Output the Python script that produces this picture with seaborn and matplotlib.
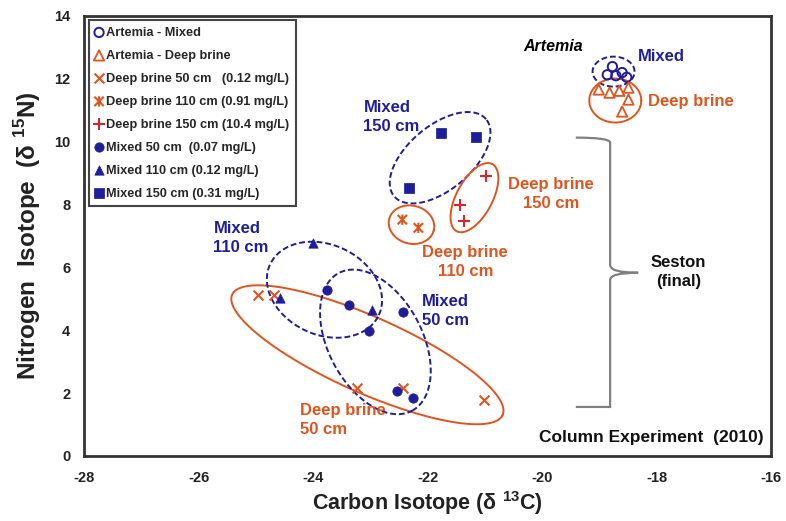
import numpy as np
import seaborn as sns
import matplotlib.pyplot as plt
from matplotlib.path import Path
from matplotlib.patches import PathPatch

# data (carbon d13C, nitrogen d15N)
art_mixed_x = [-18.77, -18.86, -18.71, -18.60, -18.52]
art_mixed_y = [12.39, 12.13, 12.10, 12.20, 12.05]
art_deep_x = [-19.01, -18.82, -18.65, -18.49, -18.49, -18.60]
art_deep_y = [11.66, 11.56, 11.62, 11.72, 11.34, 10.96]
db50_x = [-24.96, -24.68, -23.23, -22.42, -21.02]
db50_y = [5.13, 5.13, 2.17, 2.17, 1.78]
db110_x = [-22.44, -22.16]
db110_y = [7.52, 7.26]
db150_x = [-20.97, -21.44, -21.37]
db150_y = [8.92, 7.99, 7.48]
mx50_x = [-23.75, -23.38, -23.03, -22.42, -22.53, -22.25]
mx50_y = [5.29, 4.81, 3.98, 4.59, 2.07, 1.85]
mx110_x = [-24.00, -24.57, -22.97]
mx110_y = [6.78, 5.03, 4.65]
mx150_x = [-21.76, -21.16, -22.32]
mx150_y = [10.29, 10.16, 8.53]

blue = '#1E1E9C'
orange = '#E2541E'
red = '#D8262A'

sns.set_style('white')
plt.rcParams['font.family'] = ['Liberation Sans', 'DejaVu Sans']
plt.rcParams['font.weight'] = 'bold'
plt.rcParams['axes.unicode_minus'] = False
plt.rcParams['mathtext.fontset'] = 'custom'
plt.rcParams['mathtext.rm'] = 'Liberation Sans:bold'
plt.rcParams['mathtext.bf'] = 'Liberation Sans:bold'

fig = plt.figure(figsize=(7.86, 5.21), dpi=100)
ax = fig.add_axes([0.1069, 0.1248, 0.874, 0.8445])

# Excel-style "star": an x with a vertical bar through it
star = Path([(-1, -1), (1, 1), (-1, 1), (1, -1), (0, -1.1), (0, 1.1)],
            [Path.MOVETO, Path.LINETO] * 3)

sns.scatterplot(x=art_mixed_x, y=art_mixed_y, ax=ax, marker='o', s=45, facecolor='none',
                edgecolor=blue, linewidth=1.4, label='Artemia - Mixed', zorder=3)
sns.scatterplot(x=art_deep_x, y=art_deep_y, ax=ax, marker='^', s=55, facecolor='none',
                edgecolor=orange, linewidth=1.3, label='Artemia - Deep brine', zorder=3)
sns.scatterplot(x=db50_x, y=db50_y, ax=ax, marker='x', s=50, color=orange, linewidth=1.5,
                label='Deep brine 50 cm   (0.12 mg/L)', zorder=3)
sns.scatterplot(x=db110_x, y=db110_y, ax=ax, marker=star, s=55, facecolor='none',
                edgecolor=orange, linewidth=1.5,
                label='Deep brine 110 cm (0.91 mg/L)', zorder=3)
sns.scatterplot(x=db150_x, y=db150_y, ax=ax, marker='+', s=80, color=red, linewidth=1.5,
                label='Deep brine 150 cm (10.4 mg/L)', zorder=3)
sns.scatterplot(x=mx50_x, y=mx50_y, ax=ax, marker='o', s=45, color=blue, edgecolor=blue,
                label='Mixed 50 cm  (0.07 mg/L)', zorder=3)
sns.scatterplot(x=mx110_x, y=mx110_y, ax=ax, marker='^', s=45, color=blue, edgecolor=blue,
                label='Mixed 110 cm (0.12 mg/L)', zorder=3)
sns.scatterplot(x=mx150_x, y=mx150_y, ax=ax, marker='s', s=45, color=blue, edgecolor=blue,
                label='Mixed 150 cm (0.31 mg/L)', zorder=3)

ax.set_xlim(-28, -16)
ax.set_ylim(0, 14)

# pixel scale of the data axes, used to draw the group ellipses in screen shape
sx = 0.874 * 786 / 12
sy = 0.8445 * 521 / 14


def ring(cx, cy, a, b, ang, color, ls):
    t = np.linspace(0, 2 * np.pi, 200)
    th = np.deg2rad(ang)
    px = a * np.cos(t) * np.cos(th) - b * np.sin(t) * np.sin(th)
    py = a * np.cos(t) * np.sin(th) + b * np.sin(t) * np.cos(th)
    ax.plot(cx + px / sx, cy + py / sy, color=color, ls=ls, lw=1.4, zorder=2)


dash = (0, (3, 1.5))
ring(-23.05, 3.22, 148, 38, -24, orange, '-')
ring(-22.91, 3.63, 78, 47, -62, blue, dash)
ring(-23.80, 5.29, 60, 45, -25, blue, dash)
ring(-21.78, 9.49, 60, 32, 40, blue, dash)
ring(-22.28, 7.36, 23, 19, -15, orange, '-')
ring(-21.18, 8.22, 38, 18, 62, orange, '-')
ring(-18.75, 12.23, 21, 15, 0, blue, dash)
ring(-18.72, 11.31, 26, 22, 0, orange, '-')

# curly brace for the seston group
bx0, bx1, bxt = -19.41, -18.81, -18.32
verts = [(bx0, 10.13), (bx1, 10.13), (bx1, 9.97), (bx1, 9.80),
         (bx1, 6.08), (bx1, 5.83), (bxt, 5.83),
         (bx1, 5.83), (bx1, 5.60), (bx1, 1.72),
         (bx1, 1.56), (bx1, 1.56), (bx0, 1.56)]
codes = [Path.MOVETO, Path.CURVE3, Path.CURVE3, Path.LINETO,
         Path.LINETO, Path.CURVE3, Path.CURVE3,
         Path.CURVE3, Path.CURVE3, Path.LINETO,
         Path.CURVE3, Path.CURVE3, Path.LINETO]
ax.add_patch(PathPatch(Path(verts, codes), facecolor='none', edgecolor='#808080', lw=1.6))

tk = dict(fontsize=12, fontweight='bold', linespacing=1.3)
ax.text(-19.80, 13.03, 'Artemia', color='black', style='italic', ha='center', va='center',
        fontsize=11.5, fontweight='bold')
ax.text(-17.91, 12.71, 'Mixed', color=blue, ha='center', va='center', **tk)
ax.text(-17.40, 11.27, 'Deep brine', color=orange, ha='center', va='center', **tk)
ax.text(-23.12, 10.78, 'Mixed\n150 cm', color=blue, ha='left', va='center', **tk)
ax.text(-19.84, 8.34, 'Deep brine\n150 cm', color=orange, ha='center', va='center', **tk)
ax.text(-21.34, 6.18, 'Deep brine\n110 cm', color=orange, ha='center', va='center', **tk)
ax.text(-25.74, 6.94, 'Mixed\n110 cm', color=blue, ha='left', va='center', **tk)
ax.text(-22.09, 4.62, 'Mixed\n50 cm', color=blue, ha='left', va='center', **tk)
ax.text(-24.22, 1.15, 'Deep brine\n50 cm', color=orange, ha='left', va='center', **tk)
ax.text(-17.62, 5.86, 'Seston\n(final)', color='#111111', ha='center', va='center', **tk)
ax.text(-16.12, 0.6, 'Column Experiment  (2010)', color='#111111', ha='right', va='center',
        fontsize=12.5, fontweight='bold')

ax.set_xticks(np.arange(-28, -15, 2))
ax.set_xticks(np.arange(-28, -15, 1), minor=True)
ax.set_yticks(np.arange(0, 15, 2))
ax.set_yticks(np.arange(0, 15, 1), minor=True)
ax.tick_params(axis='both', which='both', direction='out', color='#999999')
ax.tick_params(axis='both', which='major', length=4, labelsize=10.5, labelcolor='#222222')
ax.tick_params(axis='both', which='minor', length=3)
for lab in ax.get_xticklabels() + ax.get_yticklabels():
    lab.set_fontweight('bold')
ax.tick_params(axis='x', pad=7)
ax.tick_params(axis='y', pad=6)

for sp in ax.spines.values():
    sp.set_color('#333333')
    sp.set_linewidth(2)

ax.set_xlabel('Carbon Isotope (δ $^{13}$C)', fontsize=15.5, fontweight='bold', labelpad=3,
              color='#222222')
ax.set_ylabel('Nitrogen  Isotope  (δ $^{15}$N)', fontsize=17.5, fontweight='bold', labelpad=8,
              color='#222222')

leg = ax.legend(loc='upper left', bbox_to_anchor=(0.007, 0.99), borderaxespad=0,
                prop={'size': 9.2, 'weight': 'bold'}, handlelength=0.6, handletextpad=0.25,
                labelspacing=0.86, fancybox=False, framealpha=1, borderpad=0.5)
leg.get_frame().set_edgecolor('#444444')
leg.get_frame().set_linewidth(1.5)

fig.savefig('out.png', dpi=100)
